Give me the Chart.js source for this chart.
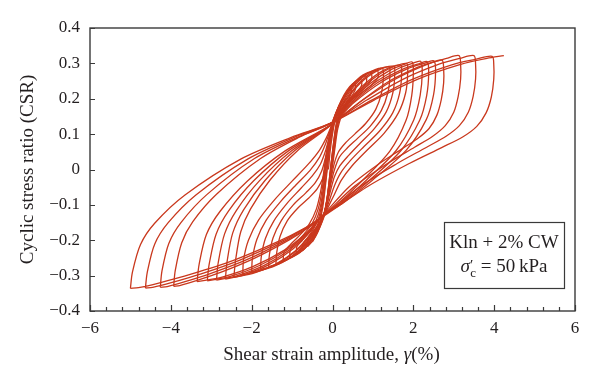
<!DOCTYPE html>
<html>
<head>
<meta charset="utf-8">
<script src="https://cdn.jsdelivr.net/npm/chart.js@4.4.0/dist/chart.umd.min.js"></script>
<style>
  html, body { margin: 0; padding: 0; background: #fff; }
</style>
</head>
<body>
<canvas id="myChart" width="600" height="386"></canvas>
<script>
// axis ranges and tick labels
const xTicks = [-6, -4, -2, 0, 2, 4, 6];
const yTicks = [-0.4, -0.3, -0.2, -0.1, 0, 0.1, 0.2, 0.3, 0.4];
const xMinorStep = 0.4;

// hysteresis loops: [strain %, CSR]
// each cycle: negative tip -> positive tip -> next negative tip
const cycleA = [[-0.1,0],[-0.06,0.05],[0,0.1],[0.06,0.135],[0.16,0.165],[0.27,0.19],[0.35,0.2],[0.36,0.185],[0.3,0.17],[0.18,0.145],[0.09,0.11],[0.03,0.06],[-0.03,0],[-0.08,-0.05],[-0.14,-0.1],[-0.2,-0.13],[-0.3,-0.16],[-0.4,-0.185],[-0.5,-0.205]];
const cycleB = [[-0.5,-0.205],[-0.48,-0.19],[-0.4,-0.175],[-0.33,-0.155],[-0.27,-0.125],[-0.22,-0.09],[-0.17,-0.04],[-0.12,0.01],[-0.07,0.06],[-0.01,0.105],[0.05,0.14],[0.15,0.175],[0.28,0.205],[0.38,0.222],[0.45,0.23],[0.46,0.215],[0.4,0.2],[0.27,0.18],[0.15,0.155],[0.08,0.12],[0.02,0.07],[-0.03,0.02],[-0.08,-0.03],[-0.13,-0.08],[-0.19,-0.12],[-0.27,-0.15],[-0.37,-0.178],[-0.5,-0.203],[-0.62,-0.218]];
const cycle1 = [[-0.62,-0.218],[-0.6,-0.2],[-0.5,-0.185],[-0.4,-0.165],[-0.31,-0.135],[-0.25,-0.1],[-0.19,-0.05],[-0.14,0],[-0.09,0.05],[-0.03,0.1],[0.03,0.137],[0.14,0.175],[0.28,0.21],[0.43,0.235],[0.55,0.245],[0.57,0.228],[0.5,0.212],[0.35,0.19],[0.2,0.165],[0.1,0.13],[0.04,0.085],[-0.01,0.04],[-0.06,-0.01],[-0.11,-0.06],[-0.17,-0.105],[-0.24,-0.137],[-0.35,-0.167],[-0.48,-0.195],[-0.62,-0.215],[-0.75,-0.23]];
const cycle2 = [[-0.75,-0.23],[-0.73,-0.21],[-0.62,-0.193],[-0.48,-0.17],[-0.35,-0.14],[-0.27,-0.1],[-0.21,-0.05],[-0.16,0],[-0.1,0.05],[-0.04,0.1],[0.02,0.137],[0.15,0.178],[0.33,0.215],[0.51,0.243],[0.7,0.255],[0.72,0.238],[0.63,0.222],[0.45,0.2],[0.26,0.175],[0.13,0.14],[0.06,0.095],[0,0.045],[-0.05,-0.005],[-0.1,-0.055],[-0.16,-0.1],[-0.23,-0.135],[-0.36,-0.17],[-0.52,-0.2],[-0.7,-0.225],[-0.9,-0.24]];
const cycle3 = [[-0.9,-0.24],[-0.88,-0.218],[-0.75,-0.2],[-0.58,-0.175],[-0.41,-0.145],[-0.3,-0.105],[-0.23,-0.055],[-0.18,0],[-0.12,0.05],[-0.05,0.1],[0.01,0.137],[0.17,0.182],[0.38,0.222],[0.6,0.252],[0.82,0.265],[0.84,0.247],[0.74,0.23],[0.54,0.207],[0.32,0.182],[0.16,0.148],[0.08,0.1],[0.02,0.05],[-0.04,0],[-0.09,-0.05],[-0.15,-0.095],[-0.22,-0.13],[-0.37,-0.172],[-0.58,-0.21],[-0.81,-0.235],[-1.06,-0.25]];
const cycle4 = [[-1.06,-0.25],[-1.04,-0.226],[-0.9,-0.207],[-0.7,-0.182],[-0.5,-0.152],[-0.35,-0.11],[-0.26,-0.06],[-0.2,-0.005],[-0.14,0.045],[-0.07,0.095],[0,0.135],[0.2,0.186],[0.44,0.23],[0.69,0.262],[0.94,0.275],[0.97,0.256],[0.86,0.238],[0.64,0.214],[0.4,0.19],[0.2,0.157],[0.1,0.108],[0.04,0.055],[-0.02,0.005],[-0.08,-0.045],[-0.14,-0.09],[-0.21,-0.127],[-0.4,-0.176],[-0.66,-0.218],[-0.93,-0.244],[-1.22,-0.26]];
const cycle5 = [[-1.22,-0.26],[-1.2,-0.234],[-1.05,-0.213],[-0.82,-0.187],[-0.58,-0.155],[-0.4,-0.112],[-0.29,-0.06],[-0.22,-0.01],[-0.16,0.04],[-0.08,0.093],[0,0.133],[0.23,0.19],[0.5,0.235],[0.79,0.267],[1.1,0.281],[1.13,0.262],[1.02,0.245],[0.78,0.222],[0.5,0.198],[0.27,0.165],[0.13,0.115],[0.06,0.06],[0,0.01],[-0.07,-0.04],[-0.13,-0.085],[-0.2,-0.122],[-0.42,-0.178],[-0.73,-0.223],[-1.05,-0.25],[-1.4,-0.268]];
const cycle6 = [[-1.4,-0.268],[-1.38,-0.235],[-1.3,-0.19],[-1.12,-0.145],[-0.85,-0.108],[-0.58,-0.08],[-0.38,-0.055],[-0.24,-0.025],[-0.15,0.015],[-0.09,0.06],[-0.03,0.1],[0.03,0.137],[0.25,0.188],[0.55,0.238],[0.89,0.272],[1.23,0.286],[1.26,0.262],[1.21,0.215],[1.07,0.17],[0.82,0.13],[0.55,0.1],[0.32,0.075],[0.15,0.05],[0.04,0.015],[-0.04,-0.03],[-0.11,-0.08],[-0.2,-0.12],[-0.3,-0.148],[-0.52,-0.19],[-0.85,-0.232],[-1.2,-0.259],[-1.58,-0.275]];
const cycle7 = [[-1.58,-0.275],[-1.56,-0.24],[-1.47,-0.193],[-1.27,-0.145],[-0.97,-0.1],[-0.66,-0.066],[-0.43,-0.038],[-0.27,-0.005],[-0.17,0.035],[-0.09,0.075],[-0.03,0.11],[0.04,0.14],[0.28,0.19],[0.63,0.241],[1.0,0.276],[1.39,0.29],[1.42,0.266],[1.37,0.217],[1.21,0.167],[0.93,0.122],[0.62,0.088],[0.36,0.06],[0.17,0.035],[0.05,0],[-0.04,-0.04],[-0.11,-0.08],[-0.19,-0.12],[-0.3,-0.15],[-0.55,-0.195],[-0.92,-0.238],[-1.33,-0.267],[-1.78,-0.283]];
const cycle8 = [[-1.78,-0.283],[-1.76,-0.245],[-1.66,-0.195],[-1.45,-0.145],[-1.12,-0.095],[-0.78,-0.053],[-0.5,-0.018],[-0.3,0.015],[-0.18,0.05],[-0.09,0.088],[-0.02,0.12],[0.04,0.142],[0.3,0.19],[0.68,0.243],[1.09,0.278],[1.51,0.292],[1.54,0.267],[1.49,0.215],[1.33,0.163],[1.03,0.115],[0.69,0.075],[0.4,0.04],[0.18,0.01],[0.05,-0.02],[-0.05,-0.06],[-0.14,-0.1],[-0.22,-0.128],[-0.36,-0.16],[-0.63,-0.205],[-1.03,-0.248],[-1.48,-0.275],[-2.0,-0.29]];
const cycle9 = [[-2.0,-0.29],[-1.98,-0.25],[-1.87,-0.197],[-1.64,-0.143],[-1.28,-0.09],[-0.9,-0.043],[-0.56,-0.003],[-0.32,0.035],[-0.18,0.07],[-0.08,0.103],[0,0.128],[0.06,0.146],[0.37,0.192],[0.81,0.243],[1.24,0.279],[1.68,0.295],[1.71,0.269],[1.66,0.215],[1.49,0.16],[1.16,0.108],[0.78,0.065],[0.44,0.025],[0.2,-0.01],[0.05,-0.045],[-0.07,-0.085],[-0.17,-0.118],[-0.26,-0.14],[-0.45,-0.173],[-0.75,-0.215],[-1.2,-0.255],[-1.7,-0.283],[-2.22,-0.298]];
const cycle10 = [[-2.22,-0.298],[-2.2,-0.255],[-2.08,-0.2],[-1.83,-0.143],[-1.43,-0.085],[-1.0,-0.033],[-0.6,0.015],[-0.32,0.055],[-0.15,0.09],[-0.05,0.117],[0.03,0.135],[0.12,0.152],[0.42,0.195],[0.88,0.245],[1.35,0.282],[1.83,0.3],[1.86,0.273],[1.81,0.217],[1.63,0.16],[1.28,0.103],[0.86,0.055],[0.48,0.01],[0.22,-0.03],[0.05,-0.07],[-0.08,-0.1],[-0.2,-0.128],[-0.32,-0.15],[-0.55,-0.185],[-0.9,-0.228],[-1.4,-0.267],[-1.93,-0.292],[-2.44,-0.305]];
const cycle11 = [[-2.44,-0.305],[-2.4,-0.258],[-2.27,-0.176],[-2.03,-0.112],[-1.54,-0.029],[-0.86,0.054],[-0.02,0.128],[0.42,0.19],[0.94,0.244],[1.46,0.283],[1.77,0.297],[1.97,0.304],[2.0,0.274],[1.96,0.209],[1.82,0.139],[1.42,0.052],[0.74,-0.031],[0.17,-0.093],[-0.27,-0.133],[-0.56,-0.177],[-0.98,-0.225],[-1.57,-0.269],[-2.17,-0.297],[-2.65,-0.31]];
const cycle12 = [[-2.65,-0.31],[-2.61,-0.262],[-2.47,-0.18],[-2.2,-0.114],[-1.67,-0.031],[-0.94,0.053],[-0.02,0.128],[0.47,0.19],[1.04,0.245],[1.61,0.284],[1.96,0.299],[2.18,0.306],[2.22,0.275],[2.17,0.21],[2.01,0.14],[1.57,0.053],[0.83,-0.031],[0.22,-0.093],[-0.27,-0.133],[-0.58,-0.178],[-1.05,-0.226],[-1.69,-0.271],[-2.35,-0.3],[-2.87,-0.313]];
const cycle13 = [[-2.87,-0.313],[-2.83,-0.265],[-2.67,-0.182],[-2.38,-0.116],[-1.81,-0.032],[-1.01,0.053],[-0.02,0.128],[0.51,0.19],[1.11,0.245],[1.73,0.283],[2.11,0.298],[2.34,0.305],[2.38,0.275],[2.33,0.209],[2.16,0.14],[1.69,0.053],[0.91,-0.031],[0.25,-0.093],[-0.27,-0.133],[-0.61,-0.178],[-1.12,-0.227],[-1.82,-0.272],[-2.53,-0.302],[-3.1,-0.315]];
const cycle14 = [[-3.1,-0.315],[-3.05,-0.267],[-2.88,-0.183],[-2.57,-0.117],[-1.95,-0.032],[-1.1,0.052],[-0.02,0.128],[0.54,0.19],[1.2,0.246],[1.86,0.285],[2.26,0.3],[2.51,0.307],[2.55,0.276],[2.5,0.211],[2.32,0.141],[1.82,0.054],[0.98,-0.031],[0.28,-0.093],[-0.27,-0.133],[-0.64,-0.179],[-1.19,-0.228],[-1.96,-0.274],[-2.73,-0.304],[-3.35,-0.317]];
const cycle15 = [[-3.35,-0.317],[-3.3,-0.268],[-3.12,-0.184],[-2.78,-0.118],[-2.11,-0.033],[-1.18,0.052],[-0.02,0.128],[0.67,0.19],[1.35,0.246],[2.03,0.285],[2.44,0.302],[2.71,0.309],[2.75,0.285],[2.75,0.245],[2.69,0.197],[2.58,0.153],[2.39,0.116],[2.1,0.087],[1.7,0.057],[1.1,0.012],[0.4,-0.05],[-0.27,-0.133],[-0.62,-0.166],[-1.07,-0.199],[-1.95,-0.252],[-2.77,-0.291],[-3.39,-0.315],[-3.78,-0.328],[-3.93,-0.33]];
const cycle16 = [[-3.93,-0.33],[-3.89,-0.285],[-3.73,-0.207],[-3.46,-0.148],[-2.87,-0.07],[-1.78,0.031],[-0.81,0.092],[-0.04,0.131],[0.76,0.197],[1.55,0.255],[2.34,0.297],[2.82,0.314],[3.13,0.322],[3.17,0.298],[3.17,0.256],[3.11,0.207],[3.0,0.162],[2.79,0.124],[2.48,0.094],[2.03,0.063],[1.36,0.017],[0.55,-0.047],[-0.29,-0.137],[-0.66,-0.168],[-1.16,-0.201],[-2.12,-0.255],[-2.99,-0.293],[-3.67,-0.318],[-4.09,-0.331],[-4.26,-0.333]];
const cycle17 = [[-4.26,-0.333],[-4.22,-0.287],[-4.05,-0.209],[-3.75,-0.15],[-3.11,-0.071],[-1.93,0.031],[-0.87,0.091],[-0.04,0.131],[0.86,0.197],[1.74,0.255],[2.62,0.297],[3.15,0.314],[3.5,0.322],[3.54,0.298],[3.54,0.256],[3.48,0.207],[3.36,0.162],[3.14,0.124],[2.81,0.094],[2.33,0.063],[1.6,0.017],[0.7,-0.047],[-0.29,-0.137],[-0.7,-0.168],[-1.24,-0.202],[-2.29,-0.256],[-3.25,-0.295],[-3.99,-0.32],[-4.45,-0.333],[-4.63,-0.335]];
const cycle18 = [[-4.63,-0.335],[-4.58,-0.289],[-4.4,-0.211],[-4.07,-0.151],[-3.38,-0.072],[-2.09,0.03],[-0.95,0.091],[-0.04,0.131],[0.97,0.196],[1.96,0.254],[2.95,0.296],[3.56,0.312],[3.95,0.32],[3.99,0.297],[3.99,0.255],[3.93,0.205],[3.8,0.16],[3.57,0.122],[3.22,0.092],[2.7,0.062],[1.9,0.017],[0.9,-0.046],[-0.29,-0.137],[-0.72,-0.168],[-1.31,-0.202],[-2.45,-0.257],[-3.5,-0.296],[-4.3,-0.321],[-4.8,-0.334],[-5.0,-0.336]];
const cycle19 = [[-5.0,-0.336],[-4.95,-0.29],[-4.75,-0.212],[-4.4,-0.152],[-3.65,-0.072],[-2.26,0.03],[-1.02,0.091],[-0.04,0.131],[1.04,0.197],[2.1,0.255],[3.17,0.297],[3.82,0.314],[4.24,0.322]];

const cycles = [cycleA, cycleB, cycle1, cycle2, cycle3, cycle4, cycle5, cycle6, cycle7, cycle8, cycle9, cycle10,
  cycle11, cycle12, cycle13, cycle14, cycle15, cycle16, cycle17, cycle18, cycle19];

const lineColor = "rgb(201,56,29)";
const textColor = "#231f20";
const serif = "'Liberation Serif', 'Times New Roman', serif";

function fmt(v) {
  if (Math.abs(v) < 1e-9) return "0";
  const s = Number.isInteger(v) ? String(Math.abs(v)) : Math.abs(v).toFixed(1);
  return v < 0 ? "\u2212" + s : s;
}

// draw a run of differently styled pieces centred on cx
function drawRuns(ctx, parts, cx, base) {
  let total = 0;
  parts.forEach(p => { ctx.font = p.f; p.w = ctx.measureText(p.t).width; total += p.w - (p.back || 0); });
  let x = cx - total / 2;
  ctx.textAlign = "left";
  parts.forEach(p => {
    ctx.font = p.f;
    x -= (p.back || 0);
    ctx.fillText(p.t, x, base + (p.dy || 0));
    x += p.w;
  });
}

// frame, inward ticks, x title and the note box
const framePlugin = {
  id: "frame",
  afterDraw(chart) {
    const ctx = chart.ctx;
    const a = chart.chartArea;
    const xs = chart.scales.x;
    const ys = chart.scales.y;
    ctx.save();
    ctx.strokeStyle = "#3a3a3a";
    ctx.lineWidth = 1.4;
    ctx.strokeRect(a.left, a.top, a.right - a.left, a.bottom - a.top);

    ctx.lineWidth = 1.2;
    ctx.beginPath();
    yTicks.forEach(v => {
      const py = Math.round(ys.getPixelForValue(v)) + 0.5;
      ctx.moveTo(a.left, py);
      ctx.lineTo(a.left + 5, py);
    });
    const n = Math.round((xTicks[xTicks.length - 1] - xTicks[0]) / xMinorStep);
    for (let i = 0; i <= n; i++) {
      const v = xTicks[0] + i * xMinorStep;
      const px = Math.round(xs.getPixelForValue(v)) + 0.5;
      const major = xTicks.some(t => Math.abs(t - v) < 1e-6);
      ctx.moveTo(px, a.bottom);
      ctx.lineTo(px, a.bottom - (major ? 6 : 4));
    }
    ctx.stroke();

    ctx.fillStyle = textColor;
    ctx.textBaseline = "alphabetic";

    // x axis title with italic gamma
    drawRuns(ctx, [
      { t: "Shear strain amplitude, ", f: "19px " + serif },
      { t: "\u03b3", f: "italic 19px " + serif },
      { t: "(%)", f: "19px " + serif }
    ], (a.left + a.right) / 2 - 1, 360);

    // note box
    const bx = a.right - 131, by = a.bottom - 89, bw = 120, bh = 66;
    ctx.lineWidth = 1.2;
    ctx.strokeRect(bx + 0.5, by + 0.5, bw, bh);
    const cx = bx + bw / 2;
    drawRuns(ctx, [{ t: "Kln + 2% CW", f: "19px " + serif }], cx, by + 26);
    drawRuns(ctx, [
      { t: "\u03c3", f: "italic 19px " + serif },
      { t: "\u2032", f: "15px " + serif, dy: -2 },
      { t: "c", f: "13px " + serif, dy: 5, back: 3 },
      { t: " = 50\u2009kPa", f: "19px " + serif }
    ], cx, by + 50);
    ctx.restore();
  }
};

const ctx = document.getElementById("myChart").getContext("2d");

const myChart = new Chart(ctx, {
  type: "scatter",
  data: {
    datasets: cycles.map((c, i) => ({
      label: "cycle " + (i + 1),
      data: c,
      showLine: true,
      borderColor: lineColor,
      borderWidth: 1.3,
      pointRadius: 0,
      tension: 0.3,
      fill: false
    }))
  },
  options: {
    responsive: false,
    animation: false,
    layout: { padding: { left: 0, right: 25, top: 28, bottom: 0 } },
    plugins: {
      legend: { display: false },
      tooltip: { enabled: false }
    },
    scales: {
      x: {
        type: "linear",
        min: xTicks[0],
        max: xTicks[xTicks.length - 1],
        grid: { display: false, drawTicks: false },
        border: { display: false },
        afterBuildTicks: s => { s.ticks = xTicks.map(v => ({ value: v })); },
        afterFit: s => { s.height = 75; },
        ticks: {
          padding: 7,
          color: textColor,
          font: { family: serif, size: 17 },
          callback: v => fmt(v)
        },
        title: { display: false }
      },
      y: {
        type: "linear",
        min: yTicks[0],
        max: yTicks[yTicks.length - 1],
        grid: { display: false, drawTicks: false },
        border: { display: false },
        afterBuildTicks: s => { s.ticks = yTicks.map(v => ({ value: v })); },
        afterFit: s => { s.width = 90; },
        ticks: {
          padding: 10,
          color: textColor,
          font: { family: serif, size: 17 },
          callback: v => fmt(v)
        },
        title: {
          display: true,
          text: "Cyclic stress ratio (CSR)",
          color: textColor,
          font: { family: serif, size: 19 },
          padding: { top: 17, bottom: 0 }
        }
      }
    }
  },
  plugins: [framePlugin]
});
</script>
</body>
</html>
